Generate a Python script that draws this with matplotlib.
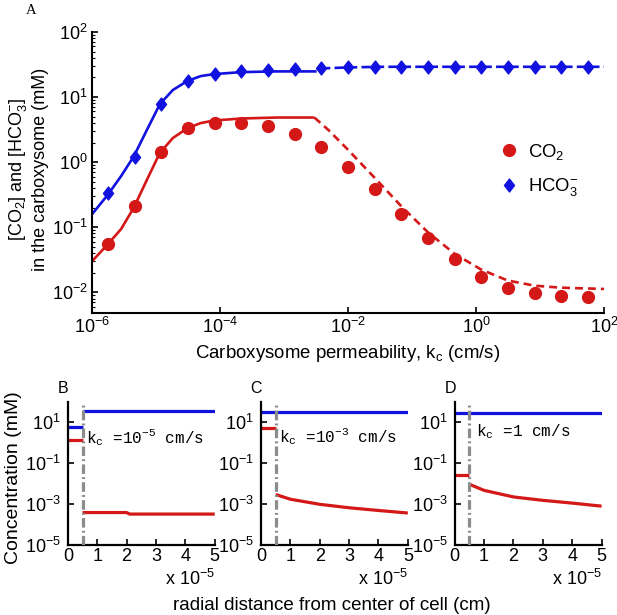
import numpy as np
import matplotlib
matplotlib.use("Agg")
import matplotlib.pyplot as plt
from matplotlib.ticker import LogLocator, NullLocator, FuncFormatter, NullFormatter
from matplotlib.path import Path

plt.rcParams['font.family'] = ['Liberation Sans', 'DejaVu Sans']
plt.rcParams['mathtext.fontset'] = 'custom'
plt.rcParams['mathtext.rm'] = 'Liberation Sans'
plt.rcParams['mathtext.it'] = 'Liberation Sans'

BLUE = '#1212e0'
RED = '#d41818'
GRAY = '#8c8c8c'

# ---------------- Panel A data ----------------
kc_points = 10.0 ** np.array([-5.75, -5.333, -4.917, -4.5, -4.083, -3.667, -3.25, -2.833,
                              -2.417, -2.0, -1.583, -1.167, -0.75, -0.333, 0.083, 0.5,
                              0.917, 1.333, 1.75])
hco3_points = [0.34, 1.19, 7.7, 17.6, 22.5, 24.8, 26.2, 27.2, 27.8, 29.0, 29.0, 29.0,
               29.0, 29.0, 29.0, 29.0, 29.0, 29.0, 29.0]
co2_points = [0.056, 0.214, 1.45, 3.37, 3.97, 4.06, 3.57, 2.70, 1.71, 0.85, 0.385, 0.161,
              0.0686, 0.0319, 0.0173, 0.0116, 0.0099, 0.0089, 0.0085]

hco3_solid_x = 10.0 ** np.array([-6.0, -5.75, -5.545, -5.346, -5.14, -4.94, -4.736, -4.51,
                                 -4.30, -4.09, -3.665, -3.12, -2.49])
hco3_solid_y = 10.0 ** np.array([-0.803, -0.50, -0.216, 0.089, 0.497, 0.889, 1.108, 1.246,
                                 1.322, 1.353, 1.383, 1.394, 1.394])
hco3_dash_x = 10.0 ** np.array([-2.42, -2.0, -1.5, 0.0, 2.0])
hco3_dash_y = 10.0 ** np.array([1.44, 1.455, 1.465, 1.465, 1.465])

co2_solid_x = 10.0 ** np.array([-6.0, -5.75, -5.545, -5.346, -5.14, -4.94, -4.736, -4.51,
                                -4.30, -4.09, -3.665, -3.12, -2.525])
co2_solid_y = 10.0 ** np.array([-1.526, -1.26, -1.03, -0.70, -0.27, 0.14, 0.37, 0.52,
                                0.60, 0.64, 0.67, 0.685, 0.685])
co2_dash_x = 10.0 ** np.array([-2.525, -2.31, -2.0, -1.585, -1.17, -0.75, -0.333, 0.077,
                               0.494, 0.918, 1.32, 2.0])
co2_dash_y = 10.0 ** np.array([0.685, 0.497, 0.19, -0.24, -0.675, -1.08, -1.41, -1.65,
                               -1.82, -1.90, -1.93, -1.95])

# ---------------- Panels B-D data (radius in cm) ----------------
r_in = [0.0, 0.5e-5]
r_carb = 0.5e-5
panels = [
    dict(letter='B', kc_text=r'k$_\mathdefault{c}$ =10$^\mathdefault{-5}$ cm/s', text_xy=(0.62e-5, 0.93),
         hco3_in=[5.6, 5.6], hco3_out_r=[0.5e-5, 5e-5], hco3_out=[35, 35],
         co2_in=[1.35, 1.35],
         co2_out_r=[0.5e-5, 2.0e-5, 2.1e-5, 5e-5], co2_out=[3.8e-4, 3.8e-4, 3.2e-4, 3.2e-4]),
    dict(letter='C', kc_text=r'k$_\mathdefault{c}$ =10$^\mathdefault{-3}$ cm/s', text_xy=(0.62e-5, 1.07),
         hco3_in=[29.6, 29.6], hco3_out_r=[0.5e-5, 5e-5], hco3_out=[32, 32],
         co2_in=[5.4, 5.4],
         co2_out_r=[0.5e-5, 1e-5, 2e-5, 3e-5, 4e-5, 5e-5],
         co2_out=[2.9e-3, 1.7e-3, 9.6e-4, 6.5e-4, 4.8e-4, 3.6e-4]),
    dict(letter='D', kc_text=r'k$_\mathdefault{c}$ =1 cm/s', text_xy=(0.72e-5, 2.1),
         hco3_in=[27.6, 27.6], hco3_out_r=[0.5e-5, 5e-5], hco3_out=[27.6, 27.6],
         co2_in=[0.026, 0.026],
         co2_out_r=[0.5e-5, 1e-5, 2e-5, 3e-5, 4e-5, 5e-5],
         co2_out=[9.1e-3, 4.6e-3, 2.2e-3, 1.5e-3, 1.1e-3, 7.8e-4]),
]
x_ticks_b = [0, 1e-5, 2e-5, 3e-5, 4e-5, 5e-5]
y_ticks_b = [1e-5, 1e-3, 1e-1, 1e1]

fig = plt.figure(figsize=(6.17, 6.15), dpi=100)

# ---------------- Panel A ----------------
axA = fig.add_axes([0.149, 0.491, 0.830, 0.457])
lw = 1.9
axA.plot(hco3_solid_x, hco3_solid_y, color=BLUE, lw=lw, solid_capstyle='butt')
axA.plot(hco3_dash_x, hco3_dash_y, color=BLUE, lw=lw, dashes=(3.5, 1.6))
axA.plot(co2_solid_x, co2_solid_y, color=RED, lw=lw, solid_capstyle='butt')
axA.plot(co2_dash_x, co2_dash_y, color=RED, lw=lw, dashes=(3.0, 1.9))

diamond = Path([(0, 1), (0.78, 0), (0, -1), (-0.78, 0), (0, 1)],
               [Path.MOVETO, Path.LINETO, Path.LINETO, Path.LINETO, Path.CLOSEPOLY])
axA.plot(kc_points, co2_points, linestyle='none', marker='o', ms=8.5,
         mfc=RED, mec=RED, label='CO$_\\mathdefault{2}$', zorder=3)
axA.plot(kc_points, hco3_points, linestyle='none', marker=diamond, ms=9.3,
         mfc=BLUE, mec=BLUE, label='HCO$_\\mathdefault{3}^\\mathdefault{-}$', zorder=3)

axA.set_xscale('log')
axA.set_yscale('log')
axA.set_xlim(1e-6, 1e2)
axA.set_ylim(10 ** -2.32, 1e2)
axA.set_xticks([1e-6, 1e-4, 1e-2, 1e0, 1e2])
axA.xaxis.set_minor_locator(NullLocator())
axA.set_yticks([1e-2, 1e-1, 1e0, 1e1, 1e2])
axA.yaxis.set_minor_locator(LogLocator(base=10, subs=np.arange(2, 10)))
axA.yaxis.set_minor_formatter(NullFormatter())
for s in ['top', 'right']:
    axA.spines[s].set_visible(False)
for s in ['left', 'bottom']:
    axA.spines[s].set_linewidth(1.5)
axA.tick_params(which='major', direction='in', length=4, width=1.2, labelsize=13, pad=3)
axA.tick_params(which='minor', direction='in', length=2, width=0.8)
axA.set_xlabel('Carboxysome permeability, k$_\\mathdefault{c}$ (cm/s)', fontsize=13.4, labelpad=4)
fig.text(0.045, 0.724, '[CO$_\\mathdefault{2}$] and [HCO$_\\mathdefault{3}^\\mathdefault{-}$]\nin the carboxysome (mM)',
         rotation=90, ha='center', va='center', multialignment='center', fontsize=13, linespacing=1.25)
fig.text(0.042, 0.983, 'A', family='Liberation Serif', fontsize=10.5, ha='left', va='center')

leg = axA.legend(loc='upper left', bbox_to_anchor=(0.797, 0.61), frameon=False, fontsize=13.3,
                 handlelength=1.0, handletextpad=0.5, borderaxespad=0, borderpad=0,
                 labelspacing=0.8, numpoints=1)

# ---------------- Panels B-D ----------------
lefts = [0.110, 0.423, 0.737]
for left, p in zip(lefts, panels):
    ax = fig.add_axes([left, 0.114, 0.238, 0.233])
    blw = 2.3
    ax.plot(r_in, p['hco3_in'], color=BLUE, lw=blw, solid_capstyle='butt')
    ax.plot(p['hco3_out_r'], p['hco3_out'], color=BLUE, lw=blw, solid_capstyle='butt')
    ax.plot(r_in, p['co2_in'], color=RED, lw=blw, solid_capstyle='butt')
    ax.plot(p['co2_out_r'], p['co2_out'], color=RED, lw=blw, solid_capstyle='butt')
    ax.axvline(r_carb, color=GRAY, lw=2.3, dashes=(3.0, 1.0, 0.6, 1.0), zorder=4)
    ax.set_yscale('log')
    ax.set_xlim(0, 5e-5)
    ax.set_ylim(1e-5, 1e2)
    ax.set_xticks(x_ticks_b)
    ax.xaxis.set_major_formatter(FuncFormatter(lambda v, pos: '%d' % round(v / 1e-5)))
    ax.set_yticks(y_ticks_b)
    ax.yaxis.set_minor_locator(NullLocator())
    for s in ['top', 'right']:
        ax.spines[s].set_visible(False)
    for s in ['left', 'bottom']:
        ax.spines[s].set_linewidth(1.6)
    ax.tick_params(axis='x', which='major', direction='in', length=4, width=1.2, labelsize=13, pad=2)
    ax.tick_params(axis='y', which='major', direction='in', length=4, width=1.2, labelsize=13, pad=5)
    ax.text(p['text_xy'][0], p['text_xy'][1], p['kc_text'], family='Liberation Mono',
            fontsize=11.5, ha='left', va='baseline', clip_on=False, zorder=5)
    ax.text(1.0, -0.235, 'x 10$^\\mathdefault{-5}$', transform=ax.transAxes, ha='right', va='center',
            fontsize=13)
    ax.text(-0.07, 1.09, p['letter'], transform=ax.transAxes, ha='left', va='center', fontsize=11.5)

fig.text(0.537, 0.016, 'radial distance from center of cell (cm)', ha='center', va='center', fontsize=13.5)
fig.text(0.022, 0.223, 'Concentration (mM)', rotation=90, ha='center', va='center', fontsize=14)

fig.savefig('out.png', dpi=100)
